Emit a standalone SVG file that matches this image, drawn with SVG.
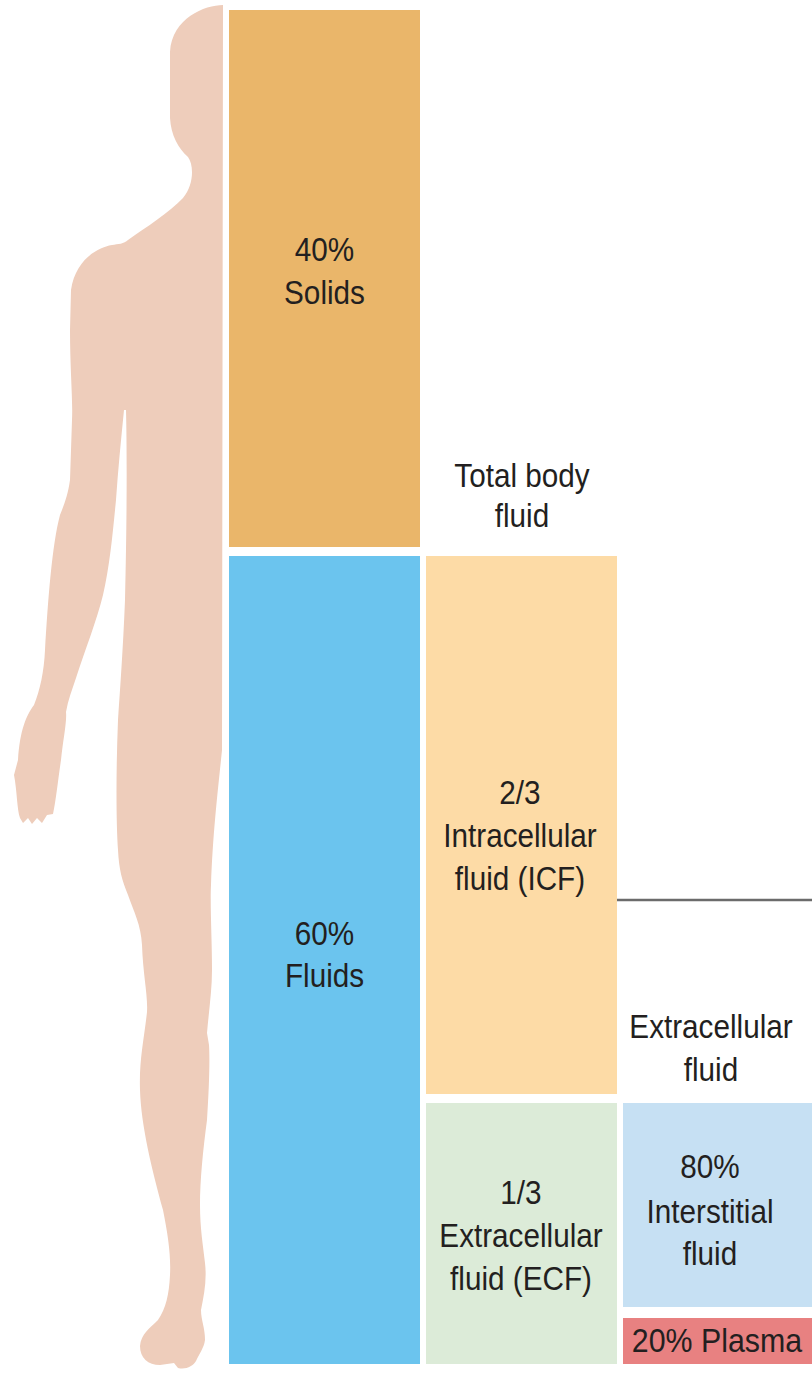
<svg xmlns="http://www.w3.org/2000/svg" width="812" height="1375" viewBox="0 0 812 1375">
  <style>
    .lbl { font-family: "Liberation Sans", Arial, Helvetica, sans-serif; font-size: 33px; fill: #231F20; text-anchor: middle; }
    .body { fill: #EECDBB; }
    .link { stroke: #6B6B6B; stroke-width: 2.5; fill: none; }
  </style>
  <rect width="812" height="1375" fill="#FFFFFF"/>

  <!-- half-body silhouette -->
  <g id="silhouette">
    <path class="body" d="M223,5 C205,5 172,18 170,52 L170,118 C171,135 178,148 188,157 C194,165 194,185 183,198 C170,212 145,228 128,240 C124,244 118,244 112,245 C95,248 75,262 71,290 L70,330 C70,370 73,400 72,420 L70,480 C68,495 64,505 60,515 C52,545 48,600 45,650 C44,672 40,690 34,705 C26,716 20,730 18,760 L14,775 C17,790 17,810 20,818 L23,823 L28,818 L32,824 L37,818 L42,823 L47,815 L53,814 C56,800 58,780 61,760 C63,740 67,722 66,712 C68,700 72,690 76,678 C85,650 97,620 103,595 C110,565 113,530 116,500 C118,470 121,440 124,410 L126,410 C127,450 127,520 125,600 C123,650 120,690 118,720 C116,770 116,820 118,850 C119,870 122,880 128,895 C134,912 141,925 142,945 C143,975 148,995 147,1012 C144,1040 139,1060 140,1090 C141,1125 152,1170 163,1210 C168,1235 171,1255 170,1275 C169,1295 166,1308 158,1320 C150,1328 141,1334 140,1346 C140,1358 148,1365 160,1365 L174,1363 L178,1368 C186,1370 193,1366 196,1361 C199,1354 204,1348 205,1340 C205,1328 201,1320 201,1310 C204,1295 207,1280 205,1263 C203,1245 200,1228 200,1205 C200,1180 203,1150 207,1120 C209,1090 210,1060 209,1045 L207,1033 C209,1010 212,990 212,970 C212,940 210,905 211,885 C213,830 218,790 222,750 L223,5 Z"/>
  </g>

  <g id="solids">
    <rect x="229" y="10" width="191" height="537" fill="#EAB66A"/>
    <text class="lbl" transform="translate(324.5,0) scale(0.9,1)"><tspan x="0" y="261">40%</tspan><tspan x="0" y="304">Solids</tspan></text>
  </g>

  <g id="fluids">
    <rect x="229" y="556" width="191" height="808" fill="#6BC4EE"/>
    <text class="lbl" transform="translate(324.5,0) scale(0.9,1)"><tspan x="0" y="945">60%</tspan><tspan x="0" y="987">Fluids</tspan></text>
  </g>

  <g id="total-body-fluid">
    <text class="lbl" transform="translate(522,0) scale(0.9,1)"><tspan x="0" y="487">Total body</tspan><tspan x="0" y="527">fluid</tspan></text>
  </g>

  <g id="icf">
    <rect x="426" y="556" width="191" height="538" fill="#FDDBA6"/>
    <text class="lbl" transform="translate(520,0) scale(0.9,1)"><tspan x="0" y="804">2/3</tspan><tspan x="0" y="847">Intracellular</tspan><tspan x="0" y="890">fluid (ICF)</tspan></text>
  </g>

  <g id="ecf">
    <rect x="426" y="1103" width="191" height="261" fill="#DCEBD8"/>
    <text class="lbl" transform="translate(521,0) scale(0.9,1)"><tspan x="0" y="1204">1/3</tspan><tspan x="0" y="1247">Extracellular</tspan><tspan x="0" y="1290">fluid (ECF)</tspan></text>
  </g>

  <g id="extracellular-fluid">
    <text class="lbl" transform="translate(711,0) scale(0.9,1)"><tspan x="0" y="1038">Extracellular</tspan><tspan x="0" y="1081">fluid</tspan></text>
  </g>

  <g id="interstitial">
    <rect x="623" y="1103" width="189" height="204" fill="#C6E0F3"/>
    <text class="lbl" transform="translate(710,0) scale(0.9,1)"><tspan x="0" y="1178">80%</tspan><tspan x="0" y="1223">Interstitial</tspan><tspan x="0" y="1265">fluid</tspan></text>
  </g>

  <g id="plasma">
    <rect x="623" y="1318" width="189" height="46" fill="#E88181"/>
    <text class="lbl" transform="translate(717,0) scale(0.92,1)"><tspan x="0" y="1352">20% Plasma</tspan></text>
  </g>

  <g id="connectors">
    <line class="link" x1="617" y1="900" x2="812" y2="900"/>
  </g>
</svg>
